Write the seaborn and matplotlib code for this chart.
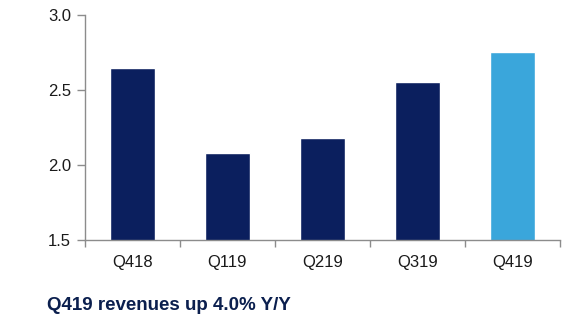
import matplotlib
matplotlib.use("Agg")
import matplotlib.pyplot as plt
import seaborn as sns
import pandas as pd
import numpy as np

quarters = ["Q418", "Q119", "Q219", "Q319", "Q419"]
revenues = [2.65, 2.08, 2.18, 2.555, 2.755]
bar_colors = ["#0B1F5E", "#0B1F5E", "#0B1F5E", "#0B1F5E", "#3AA6DB"]
y_ticks = [1.5, 2.0, 2.5, 3.0]
caption = "Q419 revenues up 4.0% Y/Y"

sns.set_theme(style="white")
plt.rcParams["font.family"] = ["Liberation Sans", "DejaVu Sans"]

df = pd.DataFrame({"quarter": quarters, "revenue": revenues})

fig = plt.figure(figsize=(5.72, 3.27), dpi=100)
ax = fig.add_axes([85 / 572, (327 - 240) / 327, (560 - 85) / 572, (240 - 15) / 327])

sns.barplot(data=df, x="quarter", y="revenue", hue="quarter", palette=bar_colors,
            legend=False, width=0.48, ax=ax, saturation=1)

ax.set_ylim(1.5, 3.0)
ax.set_xlim(-0.5, len(quarters) - 0.5)
ax.set_yticks(y_ticks)
ax.set_yticklabels([f"{v:.1f}" for v in y_ticks])
ax.set_xlabel("")
ax.set_ylabel("")

for s in ["top", "right"]:
    ax.spines[s].set_visible(False)
for s in ["left", "bottom"]:
    ax.spines[s].set_color("#8c8c8c")
    ax.spines[s].set_linewidth(1.0)

ax.tick_params(axis="y", which="major", left=True, length=6, width=1, color="#8c8c8c",
               labelsize=12, labelcolor="#1a1a1a", pad=4)
ax.tick_params(axis="x", which="major", bottom=False, labelsize=12, labelcolor="#1a1a1a", pad=4.5)
ax.set_xticks(np.arange(-0.5, len(quarters), 1.0), minor=True)
ax.tick_params(axis="x", which="minor", bottom=True, length=5, width=1, color="#8c8c8c")

fig.text(47 / 572, 1 - 305 / 327, caption, fontsize=13.5, fontweight="bold",
         color="#0B1F4E", va="center", ha="left")

fig.savefig("out.png", dpi=100)
